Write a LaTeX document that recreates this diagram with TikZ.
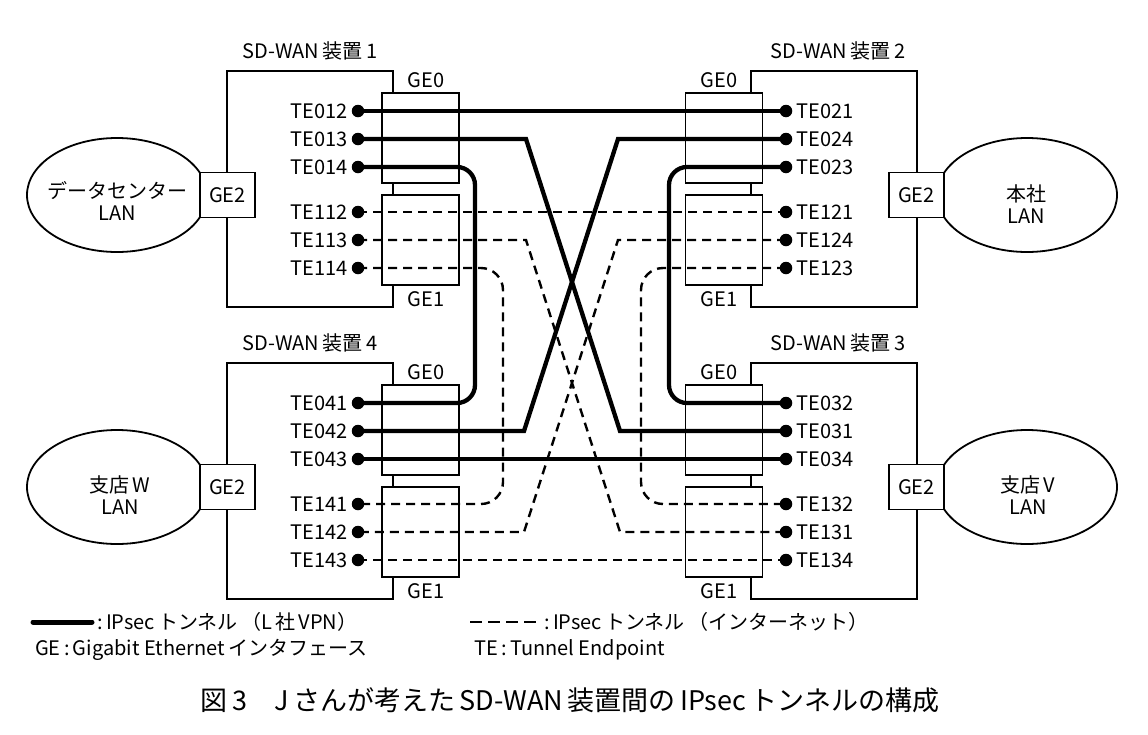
\documentclass[tikz,border=0pt]{standalone}
\usepackage{fontspec}
\setmainfont{Noto Sans CJK JP}
\usepackage{tikz}
\usetikzlibrary{positioning, calc, shapes.geometric}

\newcommand{\lblfont}{\fontsize{20}{22}\selectfont}
\newcommand{\capfont}{\fontsize{27}{29}\selectfont}

\begin{document}
\begin{tikzpicture}[
      x=1pt, y=-1pt,
      dev/.style={
        draw,
        line width=1.8pt,
        minimum width=166pt,
        minimum height=236pt
      },
      port/.style={
        draw,
        fill=white,
        line width=1.8pt,
        minimum width=77pt,
        minimum height=90pt
      },
      gebox/.style={
        draw,
        fill=white,
        line width=1.8pt,
        minimum width=55pt,
        minimum height=45pt,
        inner sep=0pt,
        font=\lblfont
      },
      lan/.style={
        draw,
        ellipse,
        line width=1.8pt,
        inner sep=0pt,
        minimum width=180pt,
        minimum height=114pt
      },
      lantxt/.style={align=center, font=\lblfont, inner sep=0pt},
      ttl/.style={font=\lblfont, inner sep=0pt},
      dot/.style={circle, fill, inner sep=0pt, minimum size=12.5pt},
      tel/.style={font=\lblfont, inner sep=0pt, label distance=4pt},
      vpn/.style={line width=4.3pt},
      inet/.style={line width=2.4pt, dash pattern=on 9pt off 6pt}
    ]

    \useasboundingbox (0,0) rectangle (1148,734);

    % SD-WAN 1
    \node[dev] (sd1) at (310,189) {};
    \node[ttl] (sd1t) at (310,51) {SD-WAN\,装置\,1};
    \node[lan] (dc) at (117,195) {};
    \node[lantxt] (dct) at (117,201) {データセンター\\LAN};
    \node[gebox] (sd1ge2) at (227.5,195) {GE2};
    \node[port] (sd1ge0) at (420.5,138) {};
    \node[port] (sd1ge1) at (420.5,240) {};
    \node[ttl] (sd1ge0t) at (426,80) {GE0};
    \node[ttl] (sd1ge1t) at (426,299) {GE1};

    % SD-WAN 2
    \node[dev] (sd2) at (834,189) {};
    \node[ttl] (sd2t) at (838,51) {SD-WAN\,装置\,2};
    \node[lan] (hq) at (1027,195) {};
    \node[lantxt] (hqt) at (1026,204) {本社\\LAN};
    \node[gebox] (sd2ge2) at (916.5,195) {GE2};
    \node[port] (sd2ge0) at (724,138) {};
    \node[port] (sd2ge1) at (724,240) {};
    \node[ttl] (sd2ge0t) at (719,80) {GE0};
    \node[ttl] (sd2ge1t) at (719,299) {GE1};

    % SD-WAN 4
    \node[dev] (sd4) at (310,481) {};
    \node[ttl] (sd4t) at (310,343) {SD-WAN\,装置\,4};
    \node[lan] (brw) at (117,487) {};
    \node[lantxt] (brwt) at (120,495) {支店\,W\\LAN};
    \node[gebox] (sd4ge2) at (227.5,487) {GE2};
    \node[port] (sd4ge0) at (420.5,430) {};
    \node[port] (sd4ge1) at (420.5,532) {};
    \node[ttl] (sd4ge0t) at (426,372) {GE0};
    \node[ttl] (sd4ge1t) at (426,591) {GE1};

    % SD-WAN 3
    \node[dev] (sd3) at (834,481) {};
    \node[ttl] (sd3t) at (838,343) {SD-WAN\,装置\,3};
    \node[lan] (brv) at (1027,487) {};
    \node[lantxt] (brvt) at (1028,495) {支店\,V\\LAN};
    \node[gebox] (sd3ge2) at (916.5,487) {GE2};
    \node[port] (sd3ge0) at (724,430) {};
    \node[port] (sd3ge1) at (724,532) {};
    \node[ttl] (sd3ge0t) at (719,372) {GE0};
    \node[ttl] (sd3ge1t) at (719,591) {GE1};

    % tunnel endpoints
    \node[dot, label={[tel]left:TE012}] (te012) at (358,111) {};
    \node[dot, label={[tel]left:TE013}] (te013) at (358,139) {};
    \node[dot, label={[tel]left:TE014}] (te014) at (358,167) {};
    \node[dot, label={[tel]left:TE112}] (te112) at (358,212) {};
    \node[dot, label={[tel]left:TE113}] (te113) at (358,240) {};
    \node[dot, label={[tel]left:TE114}] (te114) at (358,268) {};

    \node[dot, label={[tel]right:TE021}] (te021) at (786,111) {};
    \node[dot, label={[tel]right:TE024}] (te024) at (786,139) {};
    \node[dot, label={[tel]right:TE023}] (te023) at (786,167) {};
    \node[dot, label={[tel]right:TE121}] (te121) at (786,212) {};
    \node[dot, label={[tel]right:TE124}] (te124) at (786,240) {};
    \node[dot, label={[tel]right:TE123}] (te123) at (786,268) {};

    \node[dot, label={[tel]left:TE041}] (te041) at (358,403) {};
    \node[dot, label={[tel]left:TE042}] (te042) at (358,431) {};
    \node[dot, label={[tel]left:TE043}] (te043) at (358,459) {};
    \node[dot, label={[tel]left:TE141}] (te141) at (358,504) {};
    \node[dot, label={[tel]left:TE142}] (te142) at (358,532) {};
    \node[dot, label={[tel]left:TE143}] (te143) at (358,560) {};

    \node[dot, label={[tel]right:TE032}] (te032) at (786,403) {};
    \node[dot, label={[tel]right:TE031}] (te031) at (786,431) {};
    \node[dot, label={[tel]right:TE034}] (te034) at (786,459) {};
    \node[dot, label={[tel]right:TE132}] (te132) at (786,504) {};
    \node[dot, label={[tel]right:TE131}] (te131) at (786,532) {};
    \node[dot, label={[tel]right:TE134}] (te134) at (786,560) {};

    % L社 VPN
    \draw[vpn] (te012.center) -- (te021.center);
    \draw[vpn] (te013.center) -- ++(168,0) -- ([xshift=-166pt]te031.center) -- (te031.center);
    \draw[vpn] (te024.center) -- ++(-168,0) -- ([xshift=166pt]te042.center) -- (te042.center);
    \draw[vpn, rounded corners=18pt] (te014.center) -- ++(117,0) |- (te041.center);
    \draw[vpn, rounded corners=18pt] (te023.center) -- ++(-117,0) |- (te032.center);
    \draw[vpn] (te043.center) -- (te034.center);

    % インターネット
    \draw[inet] (te112.center) -- (te121.center);
    \draw[inet] (te113.center) -- ++(168,0) -- ([xshift=-166pt]te131.center) -- (te131.center);
    \draw[inet] (te124.center) -- ++(-168,0) -- ([xshift=166pt]te142.center) -- (te142.center);
    \draw[inet, rounded corners=22pt] (te114.center) -- ++(145,0) |- (te141.center);
    \draw[inet, rounded corners=22pt] (te123.center) -- ++(-145,0) |- (te132.center);
    \draw[inet] (te143.center) -- (te134.center);

    % legend
    \coordinate (k1a) at (33,622);
    \coordinate (k1b) at (92,622);
    \draw[vpn, line width=5pt, line cap=round] (k1a) -- (k1b);
    \node[ttl, anchor=west] (k1t) at (97,622) {:\,IPsec\,トンネル\,（L\,社\,VPN）};
    \coordinate (k2a) at (470,622);
    \coordinate (k2b) at (540,622);
    \draw[inet, dash pattern=on 12pt off 6pt] (k2a) -- (k2b);
    \node[ttl, anchor=west] (k2t) at (544,622) {:\,IPsec\,トンネル\,（インターネット）};
    \node[ttl, anchor=west] (k3t) at (35,650) {GE\,:\,Gigabit Ethernet\,インタフェース};
    \node[ttl, anchor=west] (k4t) at (474,650) {TE\,:\,Tunnel Endpoint};

    \node[ttl, font=\capfont] (fig) at (570,700) {図\,3\quad J\,さんが考えた\,SD-WAN\,装置間の\,IPsec\,トンネルの構成};

\end{tikzpicture}
\end{document}
